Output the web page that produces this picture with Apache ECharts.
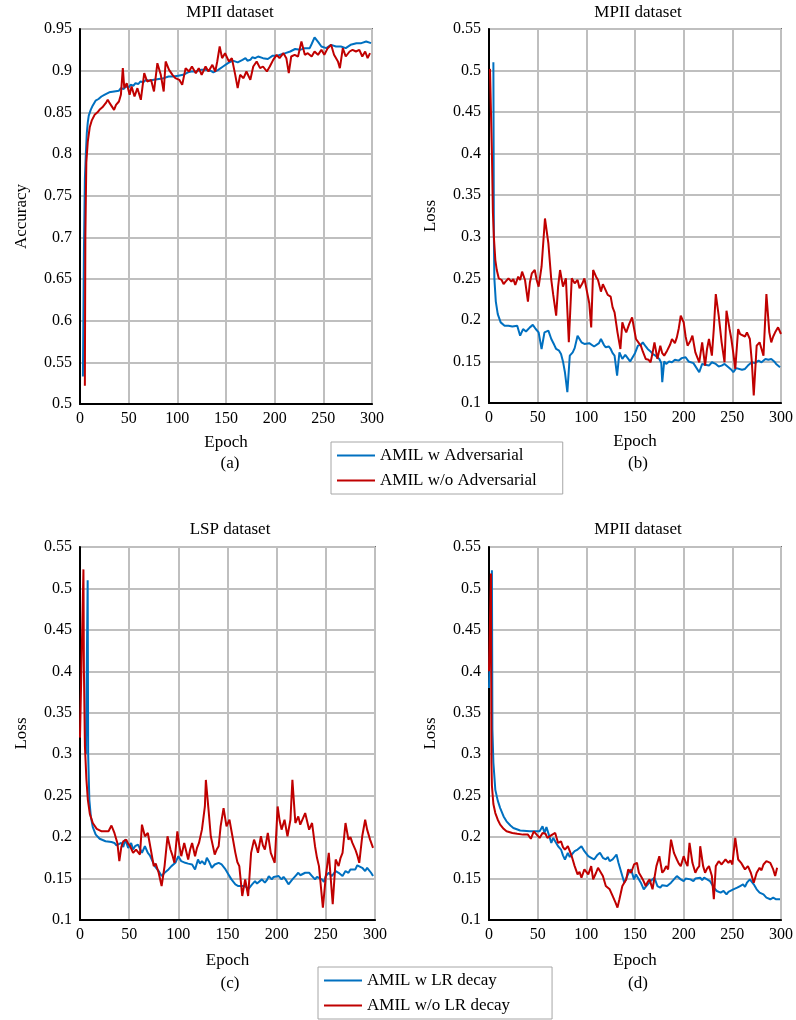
<!DOCTYPE html>
<html>
<head>
<meta charset="utf-8">
<script src="https://cdn.jsdelivr.net/npm/echarts@6/dist/echarts.min.js"></script>
<style>
  html, body { margin: 0; padding: 0; background: #fff; }
  #chart { width: 796px; height: 1020px; }
</style>
</head>
<body>
<div id="chart"></div>
<script>
// (a) MPII 准确率
var accW = [[3,0.533],[4,0.68],[5,0.77],[6,0.80],[7,0.825],[8,0.838],[9,0.846],[11,0.853],[13,0.858],[16,0.864],[19,0.866],[22,0.869],[25,0.871],[27,0.873],[30,0.874],[32,0.876],[35,0.875],[37,0.877],[40,0.876],[42,0.879],[45,0.878],[47,0.881],[50,0.880],[52,0.883],[55,0.882],[57,0.885],[60,0.884],[62,0.887],[65,0.886],[68,0.889],[71,0.888],[73,0.890],[76,0.889],[78,0.891],[81,0.890],[83,0.892],[86,0.891],[88,0.892],[91,0.893],[93,0.894],[96,0.893],[98,0.895],[101,0.894],[103,0.896],[106,0.895],[108,0.897],[111,0.898],[114,0.899],[116,0.897],[119,0.899],[121,0.901],[124,0.901],[126,0.899],[129,0.901],[131,0.902],[134,0.900],[137,0.898],[139,0.899],[142,0.901],[144,0.901],[147,0.905],[149,0.907],[152,0.909],[154,0.911],[157,0.912],[159,0.913],[162,0.910],[164,0.911],[167,0.913],[170,0.915],[172,0.912],[175,0.913],[177,0.916],[180,0.915],[183,0.917],[185,0.917],[188,0.915],[190,0.917],[193,0.914],[195,0.915],[198,0.918],[200,0.919],[203,0.918],[205,0.919],[208,0.920],[211,0.921],[213,0.920],[216,0.923],[218,0.924],[221,0.926],[223,0.924],[226,0.925],[228,0.927],[231,0.927],[233,0.926],[236,0.927],[238,0.932],[241,0.940],[243,0.937],[245,0.934],[248,0.929],[250,0.928],[253,0.927],[255,0.929],[258,0.931],[260,0.930],[263,0.929],[265,0.930],[268,0.929],[270,0.928],[273,0.927],[275,0.929],[278,0.931],[281,0.932],[284,0.933],[286,0.932],[289,0.933],[291,0.934],[294,0.935],[296,0.933],[299,0.933]]
var accWo = [[5,0.522],[5.5,0.70],[6.5,0.79],[8,0.815],[10,0.832],[12,0.840],[15,0.847],[18,0.850],[20,0.853],[23,0.856],[25,0.859],[27,0.862],[28.5,0.865],[30,0.862],[32,0.861],[35,0.853],[37,0.859],[40,0.863],[42,0.871],[44,0.903],[45.5,0.879],[48,0.885],[51,0.871],[53,0.881],[56,0.869],[59,0.879],[62.5,0.865],[66,0.897],[69,0.887],[73,0.889],[76,0.875],[79.5,0.909],[83,0.895],[86,0.875],[88,0.911],[91.5,0.901],[95,0.895],[98,0.891],[102,0.889],[105,0.883],[108.5,0.903],[112,0.899],[115,0.905],[119,0.897],[122,0.903],[125,0.895],[129,0.905],[132,0.899],[136,0.907],[139,0.899],[141,0.911],[143.5,0.929],[146,0.915],[149,0.921],[153,0.911],[156,0.915],[159.5,0.895],[162,0.879],[164.5,0.895],[168,0.891],[171,0.899],[175,0.889],[178,0.905],[181.5,0.911],[185,0.903],[188,0.905],[192,0.899],[195,0.905],[198.5,0.913],[202,0.919],[205,0.915],[209,0.921],[212,0.915],[214.5,0.897],[217,0.917],[220.5,0.919],[224,0.917],[227.5,0.935],[231,0.919],[234,0.921],[238,0.917],[241,0.923],[244.5,0.919],[248,0.925],[251,0.919],[254.5,0.927],[258,0.931],[261,0.919],[265,0.911],[267,0.903],[270,0.927],[273,0.917],[277,0.923],[280,0.925],[283.5,0.923],[287,0.925],[290,0.917],[293,0.923],[295.5,0.915],[298,0.921]]

// (b) MPII 损失
var lossAdvW = [[4.5,0.51],[5,0.30],[5.5,0.25],[7,0.222],[9,0.207],[12,0.197],[16,0.193],[20,0.193],[24,0.192],[29,0.193],[32,0.181],[35,0.189],[38,0.186],[42,0.191],[45,0.194],[48,0.189],[51,0.185],[54,0.165],[57,0.185],[61,0.187],[64,0.177],[67,0.170],[69,0.165],[72,0.163],[74,0.159],[76,0.150],[78,0.137],[80.5,0.113],[83,0.157],[86,0.161],[88,0.166],[91,0.181],[93,0.177],[95,0.173],[98,0.171],[100,0.169],[103,0.172],[105,0.173],[108,0.168],[110,0.169],[113,0.172],[115,0.177],[118,0.170],[120,0.167],[123,0.168],[125,0.165],[127,0.160],[129,0.157],[131.6,0.133],[134,0.161],[137,0.153],[140,0.158],[142,0.157],[145,0.150],[147,0.151],[150,0.160],[153,0.169],[156,0.170],[158,0.173],[161,0.168],[163,0.165],[166,0.162],[168,0.159],[171,0.157],[175,0.153],[177,0.148],[178,0.125],[180,0.150],[182,0.147],[185,0.150],[188,0.149],[191,0.152],[195,0.151],[198,0.154],[202,0.155],[205,0.150],[207,0.151],[210,0.148],[212,0.149],[216,0.137],[219,0.147],[222,0.146],[226,0.145],[229,0.149],[233,0.147],[236,0.144],[239,0.145],[242,0.147],[246,0.143],[249,0.140],[251,0.137],[254,0.142],[256,0.143],[260,0.140],[263,0.141],[266,0.145],[270,0.149],[273,0.148],[277,0.151],[280,0.149],[284,0.153],[287,0.152],[290,0.153],[293,0.150],[295,0.147],[299,0.143]]
var lossAdvWo = [[1,0.502],[2,0.50],[3,0.40],[4,0.33],[5,0.30],[6.5,0.272],[8,0.26],[10,0.25],[13,0.248],[15,0.243],[17,0.246],[20,0.25],[23,0.246],[25,0.249],[27,0.242],[30,0.252],[32,0.248],[34,0.258],[37,0.248],[40,0.222],[42,0.245],[44,0.256],[47,0.26],[49,0.248],[51,0.24],[54,0.264],[57.5,0.322],[61,0.292],[64,0.248],[66,0.23],[69,0.205],[71,0.24],[73,0.26],[76,0.24],[79,0.25],[82,0.173],[85,0.25],[88,0.244],[91,0.248],[93,0.238],[96,0.244],[98,0.25],[100,0.248],[103,0.22],[105,0.191],[107,0.26],[110,0.252],[112,0.248],[115,0.234],[117,0.243],[119,0.238],[122,0.23],[125,0.228],[127,0.215],[129,0.209],[132,0.185],[135,0.165],[137,0.197],[139,0.19],[141,0.185],[144,0.195],[147,0.203],[149,0.19],[151,0.177],[154,0.172],[156,0.169],[158,0.162],[161,0.153],[164,0.152],[166,0.149],[168,0.16],[170,0.173],[173,0.153],[176,0.169],[178,0.16],[180,0.157],[183,0.163],[186,0.17],[188,0.177],[191,0.172],[193,0.179],[195,0.19],[197,0.205],[200,0.197],[202,0.18],[204,0.169],[207,0.175],[209,0.181],[212,0.161],[214,0.155],[216,0.149],[219,0.173],[222,0.145],[224,0.165],[226,0.177],[229,0.157],[231,0.19],[233,0.231],[236,0.205],[239,0.173],[242,0.149],[244,0.211],[247,0.19],[249,0.177],[251,0.16],[253,0.141],[256,0.189],[258,0.183],[260,0.185],[263,0.18],[265,0.185],[268,0.177],[270,0.15],[272,0.109],[275,0.169],[278,0.173],[280,0.165],[282,0.157],[285,0.231],[288,0.185],[290,0.173],[292,0.18],[294,0.185],[297,0.191],[300,0.183]]

// (c) LSP 损失
var lossLspW = [[6,0.30],[7.8,0.51],[8.3,0.30],[9.5,0.245],[11,0.225],[13,0.212],[16,0.203],[20,0.198],[26,0.195],[32,0.194],[35,0.193],[37,0.19],[39,0.189],[42,0.193],[44,0.188],[46,0.197],[49,0.187],[52,0.193],[54,0.185],[56,0.189],[59,0.191],[61,0.186],[63,0.181],[66,0.189],[69,0.181],[71,0.178],[73,0.173],[76,0.165],[78,0.162],[80,0.159],[83,0.153],[86,0.157],[88,0.155],[90,0.161],[93,0.165],[95,0.163],[97,0.169],[100,0.177],[103,0.171],[105,0.172],[107,0.169],[110,0.168],[112,0.17],[114,0.167],[117,0.161],[120,0.173],[122,0.168],[124,0.171],[127,0.167],[129,0.175],[131,0.171],[134,0.163],[137,0.167],[139,0.165],[141,0.169],[144,0.167],[146,0.164],[148,0.161],[151,0.155],[154,0.149],[156,0.146],[158,0.143],[161,0.141],[165,0.141],[168,0.141],[171,0.137],[173,0.14],[175,0.143],[178,0.147],[180,0.144],[182,0.145],[185,0.149],[188,0.145],[190,0.148],[192,0.153],[195,0.149],[197,0.152],[199,0.151],[202,0.153],[205,0.149],[207,0.152],[209,0.149],[212,0.143],[214,0.146],[216,0.149],[219,0.153],[222,0.157],[224,0.154],[226,0.153],[229,0.157],[231,0.155],[233,0.157],[236,0.153],[239,0.149],[241,0.152],[243,0.153],[246,0.149],[248,0.146],[250,0.153],[253,0.157],[256,0.153],[258,0.156],[260,0.159],[263,0.157],[265,0.155],[267,0.153],[270,0.159],[273,0.157],[275,0.161],[277,0.163],[280,0.161],[282,0.166],[284,0.167],[287,0.163],[290,0.159],[292,0.163],[294,0.161],[296,0.157],[298,0.153]]
var lossLspWo = [[0,0.32],[3.5,0.523],[4,0.40],[5,0.31],[6.5,0.27],[8,0.245],[10,0.228],[13,0.217],[17,0.21],[22,0.207],[29,0.207],[32,0.214],[35,0.205],[38,0.193],[40,0.171],[42,0.188],[44,0.195],[47,0.197],[49,0.192],[51,0.189],[54,0.181],[57,0.185],[59,0.182],[61,0.179],[63,0.215],[66,0.201],[69,0.205],[72,0.185],[75,0.165],[77,0.168],[80,0.157],[83,0.141],[86,0.165],[89,0.201],[92,0.185],[94,0.178],[96,0.169],[99,0.207],[101,0.19],[103,0.177],[106,0.193],[108,0.183],[110,0.173],[112,0.185],[114,0.193],[117,0.177],[119,0.187],[121,0.193],[124,0.209],[127,0.237],[128,0.269],[131,0.229],[133,0.201],[135,0.19],[137,0.179],[139,0.185],[141,0.189],[143,0.213],[146,0.235],[149,0.213],[152,0.221],[155,0.201],[158,0.181],[160,0.17],[162,0.165],[165,0.129],[168,0.149],[171,0.129],[174,0.181],[177,0.197],[179,0.19],[181,0.181],[184,0.201],[186,0.19],[188,0.185],[191,0.205],[194,0.181],[196,0.175],[198,0.169],[201,0.237],[203,0.22],[205,0.209],[208,0.221],[211,0.201],[214,0.221],[216,0.269],[219,0.217],[222,0.225],[224,0.215],[226,0.213],[229,0.229],[233,0.209],[236,0.217],[239,0.189],[241,0.175],[243,0.165],[247,0.115],[250,0.153],[253,0.181],[255,0.15],[257,0.119],[260,0.173],[263,0.165],[265,0.175],[267,0.181],[270,0.217],[273,0.197],[275,0.2],[277,0.193],[280,0.185],[282,0.178],[284,0.169],[287,0.201],[290,0.221],[292,0.209],[295,0.197],[298,0.187]]

// (d) MPII 学习率衰减
var lossLrW = [[0,0.38],[3,0.522],[3.5,0.33],[4.5,0.29],[6.5,0.257],[9,0.244],[11.5,0.235],[15,0.225],[18,0.219],[22,0.214],[25,0.211],[32,0.208],[42,0.207],[52,0.207],[55,0.213],[57,0.205],[59,0.212],[60,0.213],[62,0.201],[64,0.193],[66,0.199],[68,0.197],[71,0.189],[74,0.185],[76,0.178],[78,0.173],[81,0.181],[83,0.176],[85,0.179],[88,0.183],[91,0.185],[93,0.183],[95,0.189],[98,0.183],[100,0.18],[102,0.177],[105,0.175],[108,0.173],[111,0.178],[114,0.181],[117,0.175],[120,0.173],[122,0.176],[124,0.171],[127,0.173],[129,0.176],[131,0.179],[133,0.169],[136,0.157],[139,0.145],[142,0.153],[144,0.158],[146,0.161],[149,0.149],[151,0.155],[153,0.157],[156,0.145],[159,0.137],[161,0.14],[163,0.141],[166,0.147],[168,0.145],[170,0.151],[173,0.141],[176,0.139],[178,0.142],[180,0.143],[183,0.141],[185,0.143],[187,0.145],[190,0.149],[193,0.153],[195,0.151],[197,0.149],[200,0.147],[202,0.15],[204,0.151],[207,0.149],[210,0.147],[212,0.15],[214,0.149],[217,0.151],[219,0.148],[221,0.151],[224,0.149],[227,0.147],[229,0.143],[231,0.139],[234,0.135],[236,0.136],[238,0.133],[241,0.135],[244,0.131],[246,0.134],[248,0.133],[251,0.137],[253,0.135],[255,0.139],[258,0.141],[261,0.143],[263,0.14],[265,0.145],[268,0.149],[270,0.146],[272,0.143],[275,0.137],[278,0.133],[280,0.135],[282,0.131],[285,0.127],[287,0.128],[289,0.125],[292,0.127],[295,0.125],[297,0.127],[299,0.125]]
var lossLrWo = [[0,0.40],[2,0.518],[2.5,0.29],[3,0.262],[4.5,0.24],[6.5,0.229],[9,0.221],[11.5,0.215],[15,0.21],[18,0.207],[24,0.205],[29,0.204],[35,0.203],[40,0.203],[43,0.198],[46,0.207],[49,0.203],[52,0.199],[55,0.205],[58,0.204],[60,0.199],[62,0.201],[65,0.203],[68,0.205],[71,0.193],[74,0.195],[76,0.188],[78,0.185],[81,0.189],[83,0.183],[85,0.177],[88,0.165],[91,0.155],[93,0.158],[95,0.151],[98,0.161],[100,0.158],[102,0.155],[105,0.165],[107,0.149],[110,0.157],[112,0.163],[114,0.161],[117,0.153],[120,0.141],[124,0.137],[127,0.129],[130,0.121],[132,0.115],[134,0.125],[137,0.141],[139,0.145],[141,0.149],[143,0.161],[146,0.157],[149,0.167],[152,0.169],[154,0.157],[156,0.153],[158,0.149],[161,0.141],[163,0.146],[165,0.149],[168,0.137],[170,0.151],[172,0.165],[175,0.177],[178,0.157],[180,0.16],[182,0.165],[184,0.161],[187,0.197],[190,0.181],[193,0.173],[195,0.168],[197,0.165],[200,0.177],[202,0.17],[204,0.165],[206,0.193],[209,0.169],[212,0.157],[214,0.162],[216,0.165],[217,0.189],[220,0.165],[222,0.157],[224,0.162],[226,0.165],[229,0.153],[231,0.125],[233,0.165],[236,0.171],[239,0.167],[241,0.17],[243,0.173],[246,0.169],[248,0.172],[250,0.167],[253,0.199],[256,0.173],[259,0.169],[261,0.165],[263,0.161],[266,0.165],[269,0.157],[272,0.145],[275,0.157],[278,0.163],[280,0.16],[282,0.167],[285,0.171],[287,0.17],[289,0.169],[292,0.161],[294,0.153],[296,0.163]]

var titles = ['MPII dataset', 'MPII dataset', 'LSP dataset', 'MPII dataset']
var captions = ['(a)', '(b)', '(c)', '(d)']
var yNames = ['Accuracy', 'Loss', 'Loss', 'Loss']

var BLUE = '#0070C0'
var RED = '#C00000'
var FONT = '"Liberation Serif", "DejaVu Serif", serif'

var grids = [
  { left: 80, top: 29, width: 292, height: 375 },
  { left: 489, top: 29, width: 294, height: 374 },
  { left: 80, top: 547, width: 295, height: 373 },
  { left: 489, top: 547, width: 294, height: 373 }
]

function xAxisOf(i) {
  return {
    type: 'value', gridIndex: i, min: 0, max: 300, interval: 50,
    name: 'Epoch', nameLocation: 'middle', nameGap: i < 2 ? 30 : 32,
    nameTextStyle: { fontFamily: FONT, fontSize: 17, color: '#000' },
    axisLine: { lineStyle: { color: '#000', width: 2 } },
    axisTick: { show: false },
    axisLabel: { fontFamily: FONT, fontSize: 16, color: '#000', margin: 7 },
    splitLine: { lineStyle: { color: '#BFBFBF', width: 2 } }
  }
}

function yAxisOf(i) {
  return {
    type: 'value', gridIndex: i,
    min: i === 0 ? 0.5 : 0.1, max: i === 0 ? 0.95 : 0.55, interval: 0.05,
    name: yNames[i], nameLocation: 'middle', nameGap: 50,
    nameTextStyle: { fontFamily: FONT, fontSize: 17, color: '#000' },
    axisLine: { show: true, lineStyle: { color: '#000', width: 2 } },
    axisTick: { show: false },
    axisLabel: { fontFamily: FONT, fontSize: 16, color: '#000', margin: 8 },
    splitLine: { lineStyle: { color: '#BFBFBF', width: 2 } }
  }
}

function lineOf(name, data, i, color) {
  return {
    name: name, type: 'line', data: data, xAxisIndex: i, yAxisIndex: i,
    symbol: 'none', showSymbol: false,
    lineStyle: { color: color, width: 2 },
    itemStyle: { color: color }
  }
}

var texts = []
var centers = [230, 638, 230, 638]
for (var i = 0; i < 4; i++) {
  texts.push({
    type: 'text', x: centers[i], y: i < 2 ? 13 : 530,
    style: { text: titles[i], fontFamily: FONT, fontSize: 17, fill: '#000', textAlign: 'center', textVerticalAlign: 'middle' }
  })
  texts.push({
    type: 'text', x: centers[i], y: i < 2 ? 464 : 984,
    style: { text: captions[i], fontFamily: FONT, fontSize: 17, fill: '#000', textAlign: 'center', textVerticalAlign: 'middle' }
  })
}

var legendBase = {
  orient: 'vertical', icon: 'rect', itemWidth: 38, itemHeight: 2, itemGap: 8,
  borderColor: '#A6A6A6', borderWidth: 1,
  textStyle: { fontFamily: FONT, fontSize: 17, color: '#000' }
}

var option = {
  animation: false,
  backgroundColor: '#fff',
  grid: grids.map(function (g) {
    return Object.assign({ show: true, borderColor: '#000', borderWidth: 1.5 }, g)
  }),
  xAxis: [0, 1, 2, 3].map(xAxisOf),
  yAxis: [0, 1, 2, 3].map(yAxisOf),
  legend: [
    Object.assign({ left: 331, top: 442, padding: [5, 26, 5, 6], data: ['AMIL w Adversarial', 'AMIL w/o Adversarial'] }, legendBase),
    Object.assign({ left: 318, top: 967, padding: [5, 42, 5, 6], data: ['AMIL w LR decay', 'AMIL w/o LR decay'] }, legendBase)
  ],
  graphic: texts,
  series: [
    lineOf('AMIL w Adversarial', accW, 0, BLUE),
    lineOf('AMIL w/o Adversarial', accWo, 0, RED),
    lineOf('AMIL w Adversarial', lossAdvW, 1, BLUE),
    lineOf('AMIL w/o Adversarial', lossAdvWo, 1, RED),
    lineOf('AMIL w LR decay', lossLspW, 2, BLUE),
    lineOf('AMIL w/o LR decay', lossLspWo, 2, RED),
    lineOf('AMIL w LR decay', lossLrW, 3, BLUE),
    lineOf('AMIL w/o LR decay', lossLrWo, 3, RED)
  ]
}

var chart = echarts.init(document.getElementById('chart'))
chart.setOption(option)
</script>
</body>
</html>
